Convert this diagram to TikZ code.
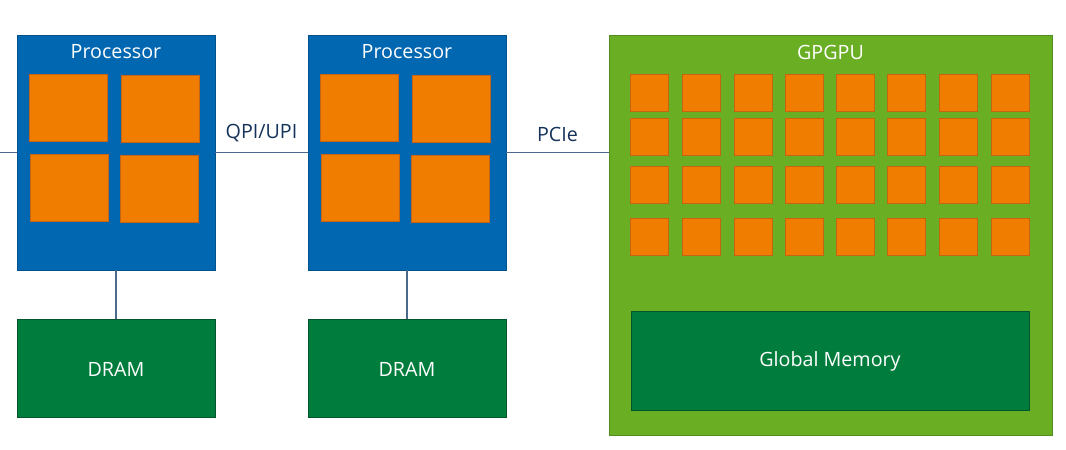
\documentclass[tikz,border=0pt]{standalone}
\usepackage{fontspec}
\setmainfont{Open Sans}
\usepackage{tikz}
\usetikzlibrary{positioning,calc}
\definecolor{procblue}{RGB}{0,103,176}
\definecolor{coreorange}{RGB}{240,125,0}
\definecolor{coreedge}{RGB}{196,100,20}
\definecolor{gpugreen}{RGB}{106,175,35}
\definecolor{gpuedge}{RGB}{80,140,30}
\definecolor{memgreen}{RGB}{0,125,60}
\definecolor{memedge}{RGB}{0,85,45}
\definecolor{linkgray}{RGB}{75,105,140}
\definecolor{labelnavy}{RGB}{20,50,90}

\begin{document}
\begin{tikzpicture}[x=0.025cm, y=-0.025cm,
    box/.style={rectangle, draw, inner sep=0pt},
    proc/.style={box, fill=procblue, draw=procblue!80!black, minimum width=4.95cm, minimum height=5.875cm},
    core/.style={box, fill=coreorange, draw=coreedge, minimum width=1.95cm, minimum height=1.675cm},
    dram/.style={box, fill=memgreen, draw=memedge, minimum width=4.95cm, minimum height=2.45cm},
    gpu/.style={box, fill=gpugreen, draw=gpuedge, minimum width=11.075cm, minimum height=10cm},
    gcore/.style={box, fill=coreorange, draw=coreedge, minimum width=0.95cm, minimum height=0.925cm},
    gmem/.style={box, fill=memgreen, draw=memedge, minimum width=9.95cm, minimum height=2.475cm},
    title/.style={text=white, font=\fontsize{14}{17}\selectfont},
    link/.style={draw=linkgray, thick},
    linklabel/.style={text=labelnavy, font=\fontsize{14}{17}\selectfont}
]
\useasboundingbox (0,0) rectangle (1066,449);

% Processor 1
\node[proc] (p1) at (116,152.5) {};
\node[title] (p1t) at (116,52) {Processor};
\node[core] (c11) at (68,107.5) {};
\node[core] (c12) at (160,108.5) {};
\node[core] (c13) at (69,187.5) {};
\node[core] (c14) at (159,188.5) {};

% Processor 2
\node[proc] (p2) at (407,152.5) {};
\node[title] (p2t) at (407,52) {Processor};
\node[core] (c21) at (359,107.5) {};
\node[core] (c22) at (451,108.5) {};
\node[core] (c23) at (360,187.5) {};
\node[core] (c24) at (450,188.5) {};

% Memory
\node[dram] (d1) at (116,368) {};
\node[title] at (116,369) {DRAM};
\node[dram] (d2) at (407,368) {};
\node[title] at (407,369) {DRAM};

% GPGPU
\node[gpu] (gpu) at (830.5,235) {};
\node[title] (gput) at (830.5,52) {GPGPU};
\foreach \col/\cx in {1/649,2/701,3/753,4/804,5/855,6/906,7/958,8/1010}
  \foreach \row/\cy in {1/92.5,2/137,3/184.5,4/236.5}
    \node[gcore] (g\row\col) at (\cx,\cy) {};
\node[gmem] (gm) at (830,360.5) {};
\node[title] at (830,361) {Global Memory};

% Links
\coordinate (lft) at (0,152.5);
\draw[link] (lft) -- (p1.west);
\draw[link] (p1.east) -- (p2.west) node[midway, above=4pt, linklabel] (qpi) {QPI/UPI};
\draw[link] (p2.east) -- (p2.east -| gpu.west) node[midway, above=4pt, linklabel] (pcie) {PCIe};
\draw[link] (p1.south) -- (d1.north);
\draw[link] (p2.south) -- (d2.north);

\end{tikzpicture}
\end{document}
